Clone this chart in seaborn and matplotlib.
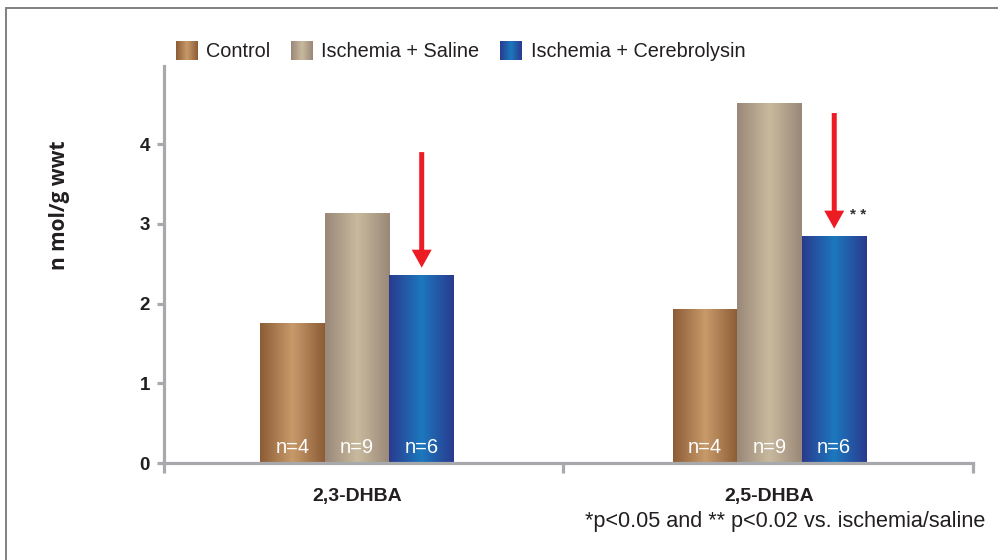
import numpy as np
import pandas as pd
import matplotlib
matplotlib.use("Agg")
import matplotlib.pyplot as plt
import seaborn as sns
from matplotlib.colors import LinearSegmentedColormap
from matplotlib.lines import Line2D
from matplotlib.patches import ArrowStyle, Patch

# ---- data ----
categories = ["2,3-DHBA", "2,5-DHBA"]
groups = ["Control", "Ischemia + Saline", "Ischemia + Cerebrolysin"]
control = [1.76, 1.93]
saline = [3.14, 4.51]
cerebrolysin = [2.36, 2.85]
n_labels = ["n=4", "n=9", "n=6"]
y_ticks = [0, 1, 2, 3, 4]
footnote = "*p\u003c0.05 and ** p\u003c0.02 vs. ischemia/saline"

rows = []
for g, vals in zip(groups, [control, saline, cerebrolysin]):
    for c, v in zip(categories, vals):
        rows.append({"category": c, "group": g, "value": v})
df = pd.DataFrame(rows)

# styling
mid_cols = ["#B07E52", "#B3A48E", "#2156A6"]
edge_cols = ["#8C5C36", "#9A8878", "#2A3A8E"]
center_cols = ["#C89A6A", "#C8BA9E", "#1C78BE"]
axis_gray = "#A7A9AC"
red = "#ED1C24"

sns.set_theme(style="white")
plt.rcParams["font.family"] = ["Liberation Sans", "DejaVu Sans"]

fig = plt.figure(figsize=(9.98, 5.6), dpi=100)
ax = fig.add_axes([164 / 998, 97 / 560, (973 - 164) / 998, 397 / 560])

sns.barplot(data=df, x="category", y="value", hue="group", order=categories,
            hue_order=groups, palette=mid_cols, width=0.47, ax=ax,
            saturation=1, legend=False, linewidth=0, errorbar=None)

# gradients on bars
def grad_cmap(i):
    return LinearSegmentedColormap.from_list(
        f"g{i}", [edge_cols[i], center_cols[i], edge_cols[i]])

grad = np.linspace(0, 1, 256).reshape(1, -1)
for i, cont in enumerate(ax.containers):
    for bar in cont:
        x0, y0 = bar.get_x(), bar.get_y()
        w, h = bar.get_width(), bar.get_height()
        im = ax.imshow(grad, cmap=grad_cmap(i), aspect="auto",
                       extent=[x0, x0 + w, y0, y0 + h], zorder=bar.get_zorder() + 0.1)
        im.set_clip_path(bar)
ax.set_ylim(0, 4.98)
ax.set_xlim(-0.468, 1.493)

# n labels
for i, cont in enumerate(ax.containers):
    for bar in cont:
        ax.text(bar.get_x() + bar.get_width() / 2, 0.19, n_labels[i],
                ha="center", va="center", color="white", fontsize=14.5,
                zorder=5)

# arrows above Cerebrolysin bars
arrow_len = 1.54
arrow_gap = 0.09
style = ArrowStyle.Simple(head_length=0.9, head_width=1.0, tail_width=0.25)
for bar in ax.containers[2]:
    xc = bar.get_x() + bar.get_width() / 2
    top = bar.get_height()
    ax.annotate("", xy=(xc, top + arrow_gap), xytext=(xc, top + arrow_len),
                arrowprops=dict(arrowstyle=style, color=red, mutation_scale=14.4,
                                shrinkA=0, shrinkB=0, lw=0), zorder=6)
b = ax.containers[2][1]
ax.annotate("* *", xy=(b.get_x() + b.get_width() / 2, b.get_height()),
            xytext=(24, 21), textcoords="offset pixels", ha="center", va="center",
            fontsize=11, fontweight="bold", color="#333333")

# axes styling
for s in ["top", "right"]:
    ax.spines[s].set_visible(False)
for s in ["left", "bottom"]:
    ax.spines[s].set_color(axis_gray)
    ax.spines[s].set_linewidth(2.3)
ax.set_yticks(y_ticks)
ax.set_yticklabels([str(t) for t in y_ticks], fontsize=13.5, fontweight="bold", color="#231F20")
ax.tick_params(axis="y", which="major", direction="out", length=5, width=2.3,
               color=axis_gray, pad=5, left=True)
ax.set_xticks([0, 1])
ax.set_xticklabels(categories, fontsize=14, fontweight="bold", color="#231F20")
ax.tick_params(axis="x", which="major", length=0, pad=18)
ax.set_xticks([-0.468, 0.5, 1.493], minor=True)
ax.tick_params(axis="x", which="minor", direction="out", length=7, width=2.3,
               color=axis_gray, bottom=True)
ax.set_xlabel("")
ax.set_ylabel("")
ax.grid(False)

fig.text(59 / 998, 1 - 205 / 560, "n mol/g wwt", rotation=90, ha="center", va="center",
         fontsize=15, fontweight="bold", color="#231F20",
         family=["Open Sans", "DejaVu Sans"])

fig.text(985 / 998, 1 - 521 / 560, footnote, ha="right", va="center", fontsize=15.6,
         color="#231F20")

# legend
handles = [Patch(facecolor=c, edgecolor="none") for c in mid_cols]
leg = fig.legend(handles, groups, loc="center left", bbox_to_anchor=(176 / 998, 1 - 51 / 560),
                 ncol=3, frameon=False, handlelength=1.1, handleheight=1.1,
                 handletextpad=0.42, columnspacing=1.05, borderaxespad=0, borderpad=0,
                 prop={"size": 14.3})
for t in leg.get_texts():
    t.set_color("#231F20")

fig.canvas.draw()
renderer = fig.canvas.get_renderer()
for i, h in enumerate(leg.legend_handles):
    bb = h.get_window_extent(renderer).transformed(fig.transFigure.inverted())
    iax = fig.add_axes([bb.x0, bb.y0, bb.width, bb.height], zorder=20)
    iax.imshow(grad, cmap=grad_cmap(i), aspect="auto")
    iax.set_axis_off()

# frame lines
fig.add_artist(Line2D([6 / 998, 1], [1 - 8 / 560, 1 - 8 / 560], color="#808080", lw=1.4,
                      transform=fig.transFigure))
fig.add_artist(Line2D([6 / 998, 6 / 998], [0, 1 - 8 / 560], color="#808080", lw=1.4,
                      transform=fig.transFigure))

fig.savefig("out.png", dpi=100)
